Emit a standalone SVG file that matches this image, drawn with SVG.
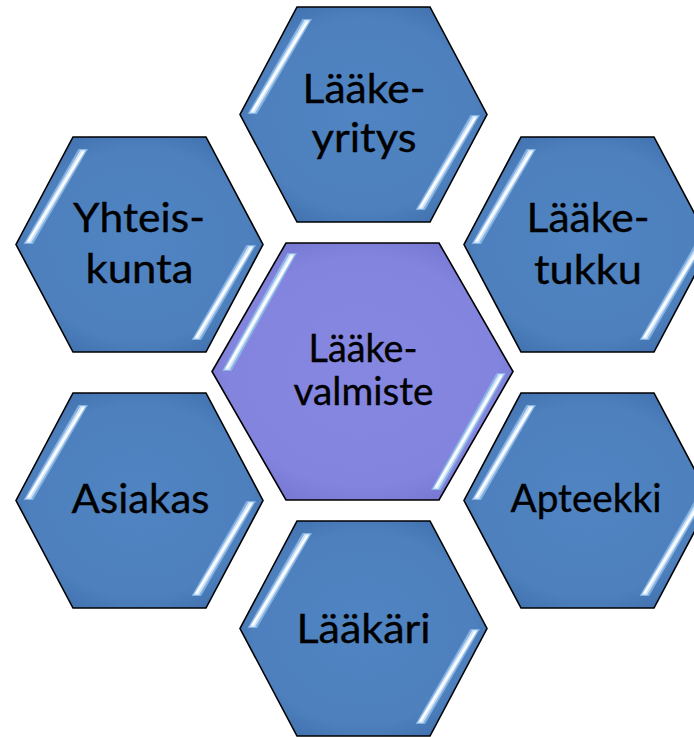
<svg xmlns="http://www.w3.org/2000/svg" xmlns:xlink="http://www.w3.org/1999/xlink" width="694" height="737" viewBox="0 0 694 737">
  <style>
    .hex { stroke: #000; stroke-width: 1.6; stroke-linejoin: miter; }
    .outer { fill: url(#gOuter); }
    .center { fill: url(#gCenter); }
    .lbl { font-family: "Lato", "Liberation Sans", sans-serif; fill: #000; stroke: #000; stroke-width: 0.35; text-anchor: middle; }
    .big { font-size: 41px; }
    .mid { font-size: 38px; }
    .glowA { fill: #8fbbe8; opacity: 0.85; }
    .glowM { fill: #cfe4fa; }
    .glowB { fill: #ffffff; }
  </style>
  <defs>
    <radialGradient id="gOuter" cx="0.5" cy="0.5" r="0.62">
      <stop offset="0" stop-color="#5084c2"/>
      <stop offset="0.72" stop-color="#4d80bd"/>
      <stop offset="1" stop-color="#3e6dab"/>
    </radialGradient>
    <radialGradient id="gCenter" cx="0.5" cy="0.5" r="0.62">
      <stop offset="0" stop-color="#8587e1"/>
      <stop offset="0.72" stop-color="#8284de"/>
      <stop offset="1" stop-color="#6f71cc"/>
    </radialGradient>
    <path id="hexOuter" d="M57,0 H190 L247,107.5 L190,215 H57 L0,107.5 Z"/>
    <path id="hexCenter" d="M74,0 H227 L301,128.5 L227,257 H74 L0,128.5 Z"/>
    <g id="glossOuter">
      <polygon class="glowA" points="62.5,12 72,12 17,107 7.5,107"/>
      <polygon class="glowM" points="64.5,13 70,13 15,106 9.5,106"/>
      <polygon class="glowB" points="66,14.5 68.5,14.5 13.5,104.5 11,104.5"/>
      <polygon class="glowA" points="230.5,108 240,108 185,203 175.5,203"/>
      <polygon class="glowM" points="232.5,109 238,109 183,202 177.5,202"/>
      <polygon class="glowB" points="234,110.5 236.5,110.5 181.5,200.5 179,200.5"/>
    </g>
    <g id="glossCenter">
      <polygon class="glowA" points="75.5,10 85,10 19.5,128 10,128"/>
      <polygon class="glowM" points="77.5,11 83,11 17.5,127 12,127"/>
      <polygon class="glowB" points="79,12.5 81.5,12.5 16,125.5 13.5,125.5"/>
      <polygon class="glowA" points="284.5,130 294,130 228.5,247 219,247"/>
      <polygon class="glowM" points="286.5,131 292,131 226.5,246 221,246"/>
      <polygon class="glowB" points="288,132.5 290.5,132.5 225,244.5 222.5,244.5"/>
    </g>
  </defs>

  <g id="connectors"/>

  <g id="node-laakeyritys" transform="translate(240,7)">
    <use xlink:href="#hexOuter" class="hex outer"/>
    <use xlink:href="#glossOuter"/>
    <text class="lbl big" x="124" y="96" textLength="123" lengthAdjust="spacingAndGlyphs">Lääke-</text>
    <text class="lbl big" x="124" y="145" textLength="105" lengthAdjust="spacingAndGlyphs">yritys</text>
  </g>

  <g id="node-yhteiskunta" transform="translate(16,137)">
    <use xlink:href="#hexOuter" class="hex outer"/>
    <use xlink:href="#glossOuter"/>
    <text class="lbl big" x="123" y="95" textLength="132" lengthAdjust="spacingAndGlyphs">Yhteis-</text>
    <text class="lbl big" x="123.5" y="146" textLength="108" lengthAdjust="spacingAndGlyphs">kunta</text>
  </g>

  <g id="node-laaketukku" transform="translate(464,137)">
    <use xlink:href="#hexOuter" class="hex outer"/>
    <use xlink:href="#glossOuter"/>
    <text class="lbl big" x="124" y="95" textLength="123" lengthAdjust="spacingAndGlyphs">Lääke-</text>
    <text class="lbl big" x="124" y="147" textLength="108" lengthAdjust="spacingAndGlyphs">tukku</text>
  </g>

  <g id="node-asiakas" transform="translate(16,393)">
    <use xlink:href="#hexOuter" class="hex outer"/>
    <use xlink:href="#glossOuter"/>
    <text class="lbl big" x="124.5" y="120" textLength="138" lengthAdjust="spacingAndGlyphs">Asiakas</text>
  </g>

  <g id="node-apteekki" transform="translate(464,393)">
    <use xlink:href="#hexOuter" class="hex outer"/>
    <use xlink:href="#glossOuter"/>
    <text class="lbl mid" x="122" y="119" textLength="151" lengthAdjust="spacingAndGlyphs">Apteekki</text>
  </g>

  <g id="node-laakari" transform="translate(240,521)">
    <use xlink:href="#hexOuter" class="hex outer"/>
    <use xlink:href="#glossOuter"/>
    <text class="lbl big" x="123.5" y="122" textLength="134" lengthAdjust="spacingAndGlyphs">Lääkäri</text>
  </g>

  <g id="node-laakevalmiste" transform="translate(212,243)">
    <use xlink:href="#hexCenter" class="hex center"/>
    <use xlink:href="#glossCenter"/>
    <text class="lbl mid" x="151" y="119" textLength="109" lengthAdjust="spacingAndGlyphs">Lääke-</text>
    <text class="lbl mid" x="151.5" y="162" textLength="140" lengthAdjust="spacingAndGlyphs">valmiste</text>
  </g>
</svg>
